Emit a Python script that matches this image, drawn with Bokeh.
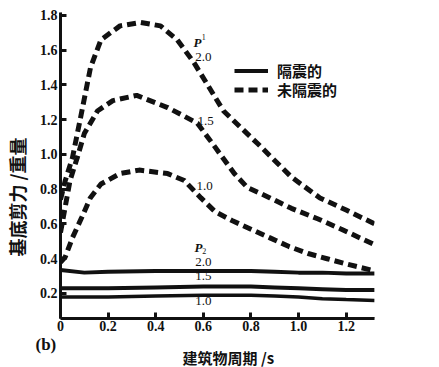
from bokeh.plotting import figure
from bokeh.models import (FixedTicker, PrintfTickFormatter, Label, Legend, LegendItem,
                          Range1d, Span, Title)
from bokeh.embed import file_html
from bokeh.resources import INLINE

# ---- data ----
dashed_20_x = [0.0, 0.02, 0.05, 0.084, 0.126, 0.17, 0.25, 0.336, 0.42, 0.49, 0.56, 0.685, 0.83, 0.97, 1.09, 1.2, 1.32]
dashed_20_y = [0.74, 0.85, 0.98, 1.21, 1.50, 1.66, 1.74, 1.76, 1.74, 1.66, 1.53, 1.25, 1.06, 0.87, 0.75, 0.68, 0.60]

dashed_15_x = [0.0, 0.02, 0.04, 0.07, 0.10, 0.155, 0.22, 0.32, 0.45, 0.575, 0.64, 0.73, 0.785, 0.88, 0.97, 1.08, 1.18, 1.32]
dashed_15_y = [0.55, 0.70, 0.85, 0.98, 1.12, 1.25, 1.31, 1.34, 1.27, 1.18, 1.06, 0.89, 0.81, 0.75, 0.69, 0.63, 0.57, 0.48]

dashed_10_x = [0.0, 0.02, 0.05, 0.09, 0.125, 0.17, 0.25, 0.33, 0.45, 0.52, 0.59, 0.65, 0.72, 0.80, 0.88, 0.96, 1.04, 1.12, 1.2, 1.32]
dashed_10_y = [0.38, 0.41, 0.52, 0.64, 0.75, 0.83, 0.89, 0.91, 0.89, 0.85, 0.75, 0.67, 0.62, 0.57, 0.52, 0.47, 0.43, 0.40, 0.37, 0.33]

solid_x = [0.0, 0.1, 0.2, 0.4, 0.6, 0.8, 0.9, 1.0, 1.1, 1.2, 1.32]
solid_20 = [0.335, 0.32, 0.325, 0.33, 0.33, 0.33, 0.325, 0.32, 0.32, 0.315, 0.315]
solid_15 = [0.23, 0.23, 0.23, 0.235, 0.24, 0.24, 0.235, 0.23, 0.225, 0.22, 0.22]
solid_10 = [0.18, 0.18, 0.18, 0.185, 0.19, 0.19, 0.185, 0.18, 0.17, 0.165, 0.16]

x_ticks = [0.0, 0.2, 0.4, 0.6, 0.8, 1.0, 1.2]
y_ticks = [0.2, 0.4, 0.6, 0.8, 1.0, 1.2, 1.4, 1.6, 1.8]

curve_labels = ["2.0", "1.5", "1.0"]
upper_label_pos = [(0.60, 1.56), (0.61, 1.19), (0.605, 0.82)]
lower_label_pos = [(0.60, 0.38), (0.60, 0.30), (0.60, 0.155)]

legend_names = ["隔震的", "未隔震的"]
x_title = "建筑物周期 /s"
y_title = "基底剪力 /重量"
panel_tag = "(b)"

SERIF = "Liberation Serif"
CJK = "Noto Sans CJK SC"
INK = "#111111"

X0, X1 = 0.0, 1.319
Y0, Y1 = 0.056, 1.817

p = figure(width=439, height=367, output_backend="svg", toolbar_location=None,
           title=None, x_range=Range1d(X0, X1), y_range=Range1d(Y0, Y1),
           min_border_left=60, min_border_right=65, min_border_top=12, min_border_bottom=49)
p.outline_line_color = None
p.xgrid.visible = False
p.ygrid.visible = False
p.background_fill_color = "white"

for ax in (p.xaxis[0], p.yaxis[0]):
    ax.axis_line_width = 3
    ax.axis_line_color = INK
    ax.major_tick_in = 6
    ax.major_tick_out = 0
    ax.major_tick_line_width = 3
    ax.major_tick_line_color = INK
    ax.minor_tick_line_color = None
    ax.major_label_text_font = SERIF
    ax.major_label_text_font_style = "bold"
    ax.major_label_text_font_size = "14px"
    ax.major_label_text_color = INK

p.xaxis.ticker = FixedTicker(ticks=x_ticks)
p.xaxis.formatter = PrintfTickFormatter(format="%.1f")
p.xaxis.major_label_overrides = {0: "0"}
p.xaxis.major_label_standoff = 2
p.yaxis.ticker = FixedTicker(ticks=y_ticks)
p.yaxis.formatter = PrintfTickFormatter(format="%.1f")
p.yaxis.major_label_standoff = 3
# trailing wide spaces shift the centred title down to where the reference has it
p.yaxis.axis_label = y_title + "\u3000" * 3 + "\u2002"
p.yaxis.axis_label_text_font = CJK
p.yaxis.axis_label_text_font_style = "bold"
p.yaxis.axis_label_text_font_size = "18px"
p.yaxis.axis_label_text_color = INK
p.yaxis.axis_label_standoff = 7

# explicit axis lines along the frame edges
p.add_layout(Span(location=X0, dimension="height", line_color=INK, line_width=3))
p.add_layout(Span(location=Y0, dimension="width", line_color=INK, line_width=3))

dash_kw = dict(line_color=INK, line_width=5, line_dash="9 5")
r_d20 = p.line(dashed_20_x, dashed_20_y, **dash_kw)
p.line(dashed_15_x, dashed_15_y, **dash_kw)
p.line(dashed_10_x, dashed_10_y, **dash_kw)

r_s20 = p.line(solid_x, solid_20, line_color=INK, line_width=4)
p.line(solid_x, solid_15, line_color=INK, line_width=4)
p.line(solid_x, solid_10, line_color=INK, line_width=3.5)

# curve labels
for (lx, ly), t in zip(upper_label_pos + lower_label_pos, curve_labels + curve_labels):
    p.add_layout(Label(x=lx, y=ly, text=t, text_font=SERIF, text_font_size="13px",
                       text_align="center", text_baseline="middle", text_color=INK))

# P1 / P2 markers
p.add_layout(Label(x=0.575, y=1.645, text="P", text_font=SERIF, text_font_style="bold italic",
                   text_font_size="13px", text_align="center", text_baseline="middle", text_color=INK))
p.add_layout(Label(x=0.602, y=1.675, text="1", text_font=SERIF, text_font_size="8px",
                   text_align="center", text_baseline="middle", text_color=INK))
p.add_layout(Label(x=0.58, y=0.465, text="P", text_font=SERIF, text_font_style="bold italic",
                   text_font_size="13px", text_align="center", text_baseline="middle", text_color=INK))
p.add_layout(Label(x=0.604, y=0.445, text="2", text_font=SERIF, text_font_size="8px",
                   text_align="center", text_baseline="middle", text_color=INK))


def make_legend(name, renderer, loc):
    lg = Legend(items=[LegendItem(label=name, renderers=[renderer])], location=loc)
    lg.border_line_color = None
    lg.background_fill_alpha = 0
    lg.padding = 0
    lg.margin = 0
    lg.spacing = 0
    lg.glyph_width = 34
    lg.glyph_height = 17
    lg.label_standoff = 9
    lg.label_text_font = CJK
    lg.label_text_font_style = "bold"
    lg.label_text_font_size = "15px"
    lg.label_text_color = INK
    lg.label_height = 17
    return lg


p.add_layout(make_legend(legend_names[0], r_s20, (174, 237)), "center")
p.add_layout(make_legend(legend_names[1], r_d20, (174, 218)), "center")

# panel tag and x title below the axis (vertically centred in their boxes)
p.add_layout(Title(text=panel_tag, align="left", vertical_align="middle", text_font=SERIF,
                   text_font_style="bold", text_font_size="17px", text_color=INK,
                   offset=-25, standoff=1), "below")
p.add_layout(Title(text=x_title, align="left", vertical_align="middle", text_font=CJK,
                   text_font_style="bold", text_font_size="15px", text_color=INK,
                   offset=122, standoff=-19), "below")

open("out.html", "w").write(file_html(p, INLINE))
